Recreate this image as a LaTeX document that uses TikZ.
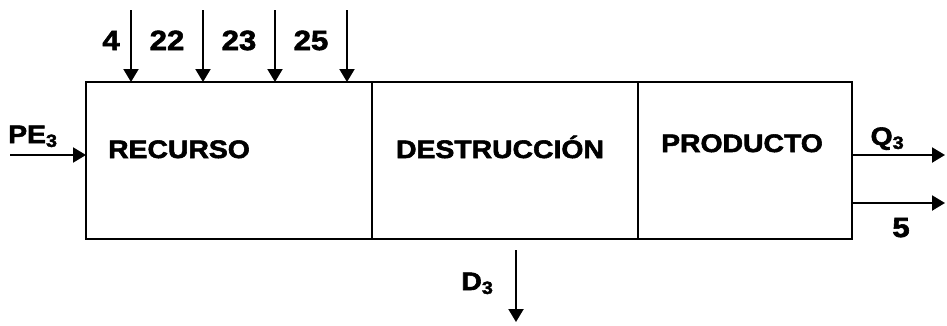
\documentclass[tikz,border=0pt]{standalone}
\usepackage{fontspec}
\setmainfont{Liberation Sans}[FakeStretch=1.12, BoldFeatures={FakeBold=2.2}]
\usetikzlibrary{arrows.meta}

\tikzset{
  caja/.style={draw, line width=0.6pt, inner sep=0pt, outer sep=0pt,
    minimum height=1.57cm},
  rotulo/.style={anchor=base, inner sep=0pt, font=\bfseries\fontsize{7.2}{8}\selectfont},
  cifra/.style={anchor=base, inner sep=0pt, font=\bfseries\fontsize{7.9}{9}\selectfont},
  flecha/.style={line width=0.6pt, -{Triangle[length=1.3mm,width=1.5mm]}}
}

\begin{document}
\begin{tikzpicture}
    \useasboundingbox (0,0) rectangle (9.47,3.25);

    % bloque
    \node[caja, minimum width=2.86cm] (recurso) at (2.29,1.645) {};
    \node[caja, minimum width=2.66cm] (destruccion) at (5.05,1.645) {};
    \node[caja, minimum width=2.14cm] (producto) at (7.45,1.645) {};
    \node[rotulo] (trecurso) at (1.79,1.67) {RECURSO};
    \node[rotulo] (tdestruccion) at (5.00,1.67) {DESTRUCCIÓN};
    \node[rotulo] (tproducto) at (7.42,1.73) {PRODUCTO};

    % entradas de arriba
    \foreach \x/\n/\lx in {1.31/4/1.11, 2.03/22/1.67, 2.75/23/2.39, 3.47/25/3.11} {
      \coordinate (e\n) at (\x,3.15);
      \draw[flecha] (e\n) -- (e\n |- recurso.north);
      \node[cifra] (n\n) at (\lx,2.75) {\n};
    }

    % entrada izquierda
    \coordinate (pe) at (0.10,1.70);
    \draw[flecha] (pe) -- (pe -| recurso.west);
    \node[rotulo] (tpe) at (0.335,1.82) {PE\textsubscript{3}};

    % salidas
    \coordinate (q) at (9.45,1.70);
    \draw[flecha] (q -| producto.east) -- (q);
    \node[rotulo] (tq) at (8.88,1.80) {Q\textsubscript{3}};

    \coordinate (s5) at (9.45,1.22);
    \draw[flecha] (s5 -| producto.east) -- (s5);
    \node[cifra] (t5) at (9.01,0.88) {5};

    \coordinate (dini) at (5.16,0.75);
    \coordinate (dfin) at (5.16,0.03);
    \draw[flecha] (dini) -- (dfin);
    \node[rotulo] (td) at (4.78,0.35) {D\textsubscript{3}};
\end{tikzpicture}
\end{document}
